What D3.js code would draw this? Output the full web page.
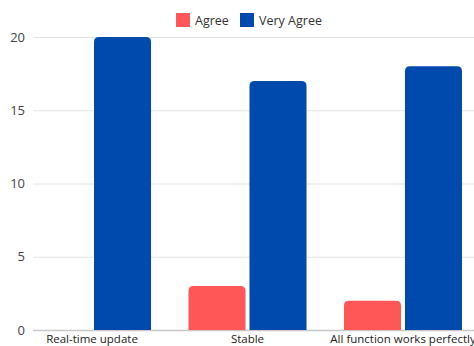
<!DOCTYPE html>
<html>
<head>
<meta charset="utf-8">
<script src="https://cdn.jsdelivr.net/npm/d3@7"></script>
<style>
  body { margin: 0; background: #fff; overflow: hidden; }
  text { font-family: "Open Sans", sans-serif; }
</style>
</head>
<body>
<div id="chart"></div>
<script>
// data
const categories = ["Real-time update", "Stable", "All function works perfectly"];
const series = ["Agree", "Very Agree"];
const agree = [0, 3, 2];
const veryAgree = [20, 17, 18];
const yTicks = [0, 5, 10, 15, 20];
const colors = ["#ff5757", "#004aad"];

const width = 474, height = 346;
const svg = d3.select("#chart").append("svg")
  .attr("width", width).attr("height", height);

const y = d3.scaleLinear().domain([0, 20]).range([330, 37]);
const x = d3.scaleBand().domain(categories)
  .range([14.25, 480.75]).paddingInner(0.241).paddingOuter(0.1206);
const xs = d3.scaleBand().domain(series).range([0, x.bandwidth()]).paddingInner(0.065);

// grid
svg.append("g").selectAll("line").data(yTicks).join("line")
  .attr("x1", 33).attr("x2", width)
  .attr("y1", d => y(d) + 0.5).attr("y2", d => y(d) + 0.5)
  .attr("stroke", d => d === 0 ? "#c8c8c8" : "#e2e2e2")
  .attr("stroke-width", d => d === 0 ? 1.5 : 1);

svg.append("g").selectAll("text").data(yTicks).join("text")
  .attr("x", 25).attr("y", d => y(d) + 4.5)
  .attr("text-anchor", "end")
  .attr("font-size", 13).attr("fill", "#444")
  .text(d => d);

// bars with rounded tops
const rows = categories.map((c, i) => ({ c, vals: [agree[i], veryAgree[i]] }));
function topRounded(x0, y0, w, h, r) {
  if (h <= 0) return "";
  r = Math.min(r, h, w / 2);
  return `M${x0},${y0 + h}V${y0 + r}Q${x0},${y0} ${x0 + r},${y0}H${x0 + w - r}Q${x0 + w},${y0} ${x0 + w},${y0 + r}V${y0 + h}Z`;
}
svg.append("g").selectAll("g").data(rows).join("g")
  .attr("transform", d => `translate(${x(d.c)},0)`)
  .selectAll("path").data(d => d.vals.map((v, j) => ({ s: series[j], v, j })))
  .join("path")
  .attr("d", d => topRounded(xs(d.s), y(d.v), xs.bandwidth(), y(0) - y(d.v), 5))
  .attr("fill", d => colors[d.j]);

// x labels
svg.append("g").selectAll("text").data(categories).join("text")
  .attr("x", d => x(d) + x.bandwidth() / 2).attr("y", 343)
  .attr("text-anchor", "middle")
  .attr("font-size", 11.5).attr("fill", "#222")
  .text(d => d);

// legend
const legendX = [176, 240];
const lg = svg.append("g").selectAll("g").data(series).join("g")
  .attr("transform", (d, i) => `translate(${legendX[i]},13)`);
lg.append("rect").attr("width", 14).attr("height", 14)
  .attr("fill", (d, i) => colors[i]);
lg.append("text").attr("x", 19).attr("y", 11.5)
  .attr("font-size", 12.5).attr("fill", "#333")
  .text(d => d);
</script>
</body>
</html>
